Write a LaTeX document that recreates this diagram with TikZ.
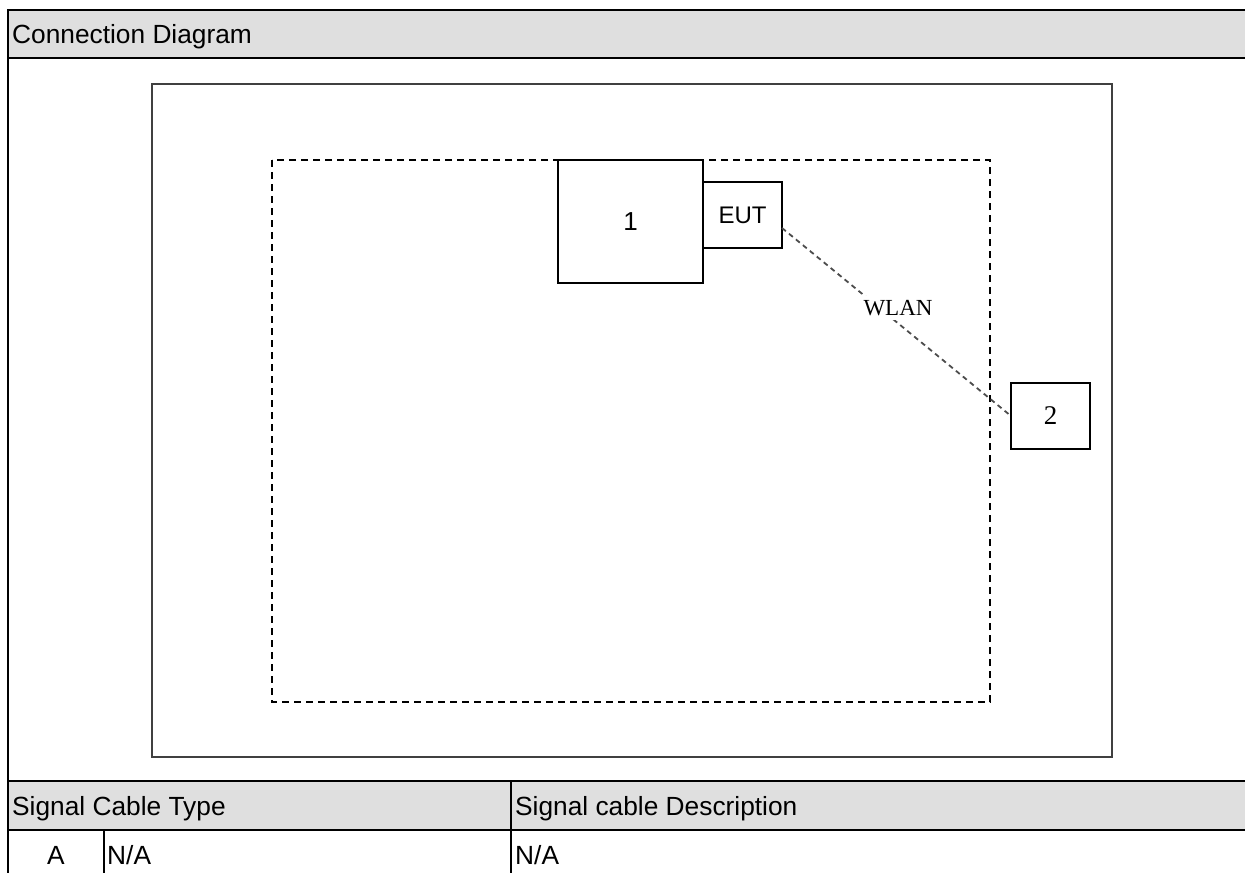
\documentclass[tikz,border=0pt]{standalone}
\usepackage{fontspec}
\setmainfont{Liberation Sans}
\newfontfamily\seriffam{Liberation Serif}
\usepackage{tikz}

\begin{document}
\begin{tikzpicture}[x=1pt, y=-1pt,
        tableline/.style={line width=2.6pt, black},
        frame/.style={line width=2.4pt, draw=black!75},
        zone/.style={line width=2pt, dash pattern=on 7pt off 5pt},
        unit/.style={draw, line width=1.9pt, fill=white, inner sep=0pt, outer sep=0pt},
        wlan/.style={line width=1.8pt, draw=black!70, dash pattern=on 5pt off 4pt},
        celltext/.style={font=\fontsize{26.3}{30}\selectfont, anchor=base west, inner sep=0pt}]
        \useasboundingbox (0,0) rectangle (1245,873);
        \fill[gray!25] (8,10) rectangle (1245,58);
        \fill[gray!25] (8,781) rectangle (1245,830);
        \draw[tableline] (1245,10) -- (8,10) -- (8,873);
        \draw[tableline] (8,58) -- (1245,58);
        \draw[tableline] (8,781) -- (1245,781);
        \draw[tableline] (8,830) -- (1245,830);
        \draw[tableline] (511,781) -- (511,873);
        \draw[tableline] (104,830) -- (104,873);
        \node[celltext] (title) at (12,43) {Connection Diagram};
        \node[celltext] (typehead) at (12,815) {Signal Cable Type};
        \node[celltext] (deschead) at (515,815) {Signal cable Description};
        \node[celltext, anchor=base] (cableid) at (56,864) {A};
        \node[celltext] (cabletype) at (107,864) {N/A};
        \node[celltext] (cabledesc) at (515,864) {N/A};
        \draw[frame] (152,84) rectangle (1112,757);
        \draw[zone] (272,160) rectangle (990,702);
        \node[unit, anchor=north west, minimum width=145, minimum height=123,
              font=\fontsize{26}{30}\selectfont] (dev1) at (558,160) {1};
        \node[unit, anchor=north west, minimum width=79, minimum height=66,
              font=\fontsize{24}{28}\selectfont] (eut) at ([yshift=-22pt]dev1.north east) {EUT};
        \node[unit, minimum width=79, minimum height=66,
              font=\seriffam\fontsize{27}{30}\selectfont] (dev2) at (1050.5,416) {2};
        \draw[wlan] ([yshift=-13pt]eut.east) -- (dev2.west);
        \node[fill=white, inner sep=4pt, font=\seriffam\fontsize{23}{26}\selectfont] (wlanlabel) at (898,308) {WLAN};
\end{tikzpicture}
\end{document}
